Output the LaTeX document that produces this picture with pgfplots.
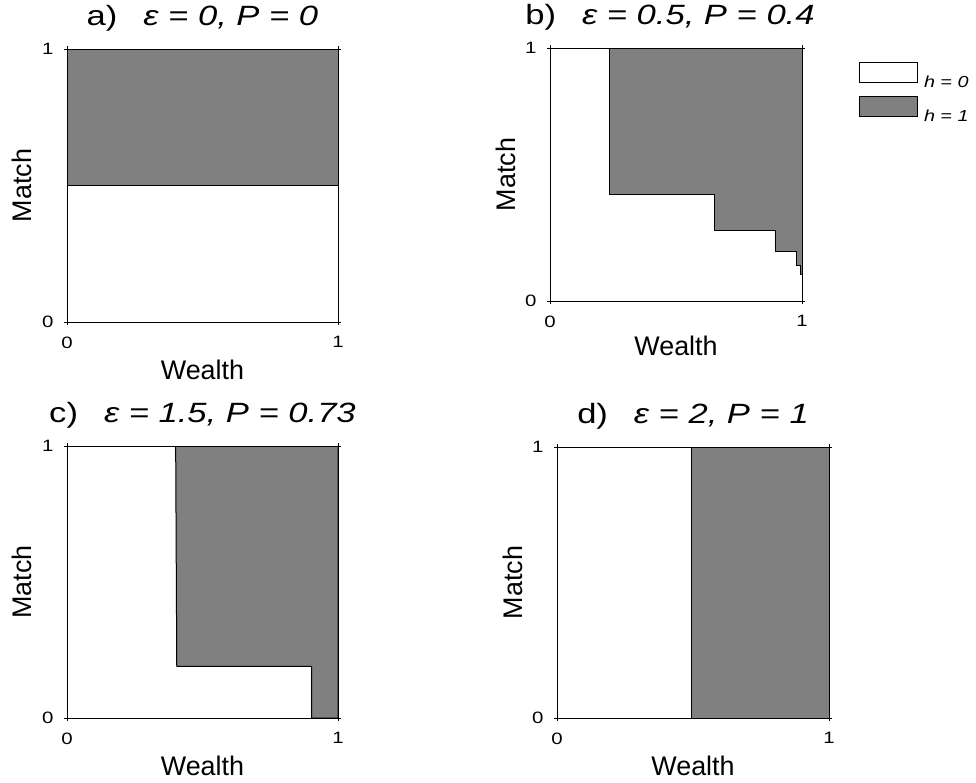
\documentclass[border=0pt]{standalone}
\usepackage{fontspec}
\setmainfont{Liberation Sans}
\usepackage{graphicx}
\usepackage{pgfplots}
\pgfplotsset{compat=1.18}
\definecolor{fillgray}{HTML}{808080}
\newcommand{\wide}[1]{\scalebox{1.24}[1]{#1}}
\pgfplotsset{
  panel/.style={
    scale only axis, anchor=north west,
    xmin=0,xmax=1,ymin=0,ymax=1,
    xtick={0,1}, ytick={0,1},
    xticklabels={\wide{0},\wide{1}}, yticklabels={\wide{0},\wide{1}},
    axis on top,
    axis line style={line width=1bp, black},
    tick align=outside, major tick length=3bp,
    tick style={black, line width=0.8bp},
    tick label style={font=\fontsize{16.5}{16.5}\selectfont},
    /pgf/number format/assume math mode=true,
    xticklabel style={yshift=-8bp},
    yticklabel style={xshift=-7bp},
    label style={font=\fontsize{27}{27}\selectfont},
    title style={font=\fontsize{28}{28}\selectfont, at={(0.5,1)}, anchor=base, yshift=18bp},
    xlabel={Wealth}, ylabel={Match},
    xlabel style={at={(0.5,0)}, anchor=base, yshift=-57bp},
  },
  region/.style={fill=fillgray, draw=black, line width=1bp},
  blank/.style={fill=white, draw=black, line width=1bp},
}
\begin{document}
\begin{tikzpicture}
\path[use as bounding box] (0,0) rectangle (976bp,-783bp);
% a
\begin{axis}[panel, at={(67bp,-49bp)}, width=271bp, height=273bp,
  ylabel style={at={(axis description cs:-0.1292,0.5)}, anchor=base},
  title={\wide{a)\hspace{0.75em}\textit{ε = 0, P = 0}}}]
\addplot[region] coordinates {(0,0.5) (1,0.5) (1,1) (0,1)} -- cycle;
\end{axis}
% b
\begin{axis}[panel, at={(550bp,-48bp)}, width=252bp, height=253bp,
  ylabel style={at={(axis description cs:-0.1389,0.5)}, anchor=base},
  xlabel style={yshift=3bp},
  title style={xshift=-6bp},
  title={\wide{b)\hspace{0.75em}\textit{ε = 0.5, P = 0.4}}},
  legend image code/.code={\draw[#1, line width=0.8bp] (0bp,0bp) rectangle (58bp,20bp);},
  legend style={at={(axis description cs:1.2262,0.9447)}, anchor=north west,
    draw=none, fill=none, inner sep=0pt, row sep=7bp,
    font=\itshape\fontsize{16}{16}\selectfont, nodes={inner sep=0pt},
    /tikz/every odd column/.append style={column sep=6bp}}]
\addplot[blank] coordinates {(0,0) (0,1) (0.235,1) (0.235,0.422) (0.651,0.422) (0.651,0.278) (0.896,0.278) (0.896,0.194) (0.979,0.194) (0.979,0.142) (0.993,0.142) (0.993,0.106) (1,0.106) (1,0)} -- cycle;
\addlegendentry{\wide{h = 0}}
\addplot[region] coordinates {(0.235,1) (0.235,0.422) (0.651,0.422) (0.651,0.278) (0.896,0.278) (0.896,0.194) (0.979,0.194) (0.979,0.142) (0.993,0.142) (0.993,0.106) (1,0.106) (1,1)} -- cycle;
\addlegendentry{\wide{h = 1}}
\end{axis}
% c
\begin{axis}[panel, at={(67bp,-446bp)}, width=271bp, height=272bp,
  ylabel style={at={(axis description cs:-0.1292,0.5)}, anchor=base},
  title={\wide{c)\hspace{0.75em}\textit{ε = 1.5, P = 0.73}}}]
\addplot[region] coordinates {(0.401,1) (0.405,0.19) (0.903,0.19) (0.903,0) (1,0) (1,1)} -- cycle;
\end{axis}
% d
\begin{axis}[panel, at={(557bp,-447bp)}, width=272bp, height=271bp,
  ylabel style={at={(axis description cs:-0.1287,0.5)}, anchor=base},
  title={\wide{d)\hspace{0.75em}\textit{ε = 2, P = 1}}}]
\addplot[region] coordinates {(0.496,0) (1,0) (1,1) (0.496,1)} -- cycle;
\end{axis}
\end{tikzpicture}
\end{document}
